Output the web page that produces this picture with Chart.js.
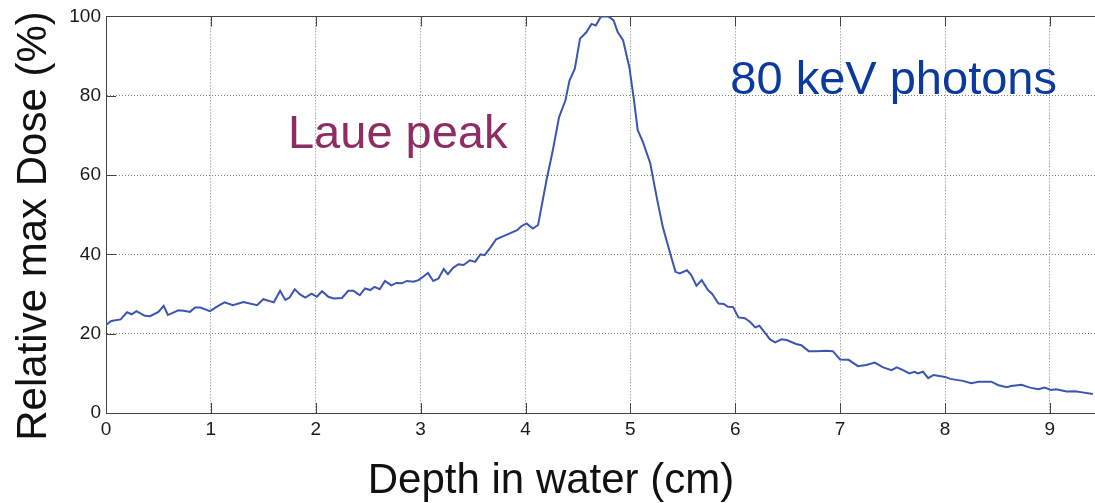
<!DOCTYPE html>
<html>
<head>
<meta charset="utf-8">
<script src="https://cdn.jsdelivr.net/npm/chart.js@4.4.1/dist/chart.umd.min.js"></script>
<style>
html,body{margin:0;padding:0;background:#fff;}
#wrap{position:relative;width:1095px;height:503px;}
</style>
</head>
<body>
<div id="wrap"><canvas id="c"></canvas></div>
<script>
// ---- data ----
const depthCm = [0.00,0.05,0.14,0.20,0.245,0.29,0.37,0.42,0.50,0.55,0.59,0.69,0.74,0.80,0.85,0.90,0.99,1.07,1.13,1.21,1.31,1.44,1.50,1.60,1.66,1.71,1.75,1.80,1.85,1.90,1.96,2.01,2.06,2.12,2.17,2.25,2.31,2.36,2.42,2.47,2.52,2.56,2.61,2.66,2.72,2.77,2.82,2.87,2.93,2.98,3.03,3.07,3.12,3.17,3.22,3.26,3.31,3.36,3.41,3.47,3.52,3.57,3.61,3.66,3.72,3.79,3.85,3.92,3.96,4.01,4.07,4.12,4.20,4.26,4.32,4.38,4.42,4.47,4.52,4.58,4.63,4.67,4.72,4.79,4.84,4.88,4.93,4.99,5.03,5.07,5.12,5.19,5.25,5.31,5.38,5.43,5.47,5.54,5.58,5.63,5.68,5.74,5.78,5.84,5.89,5.93,5.98,6.03,6.09,6.14,6.19,6.23,6.33,6.38,6.44,6.49,6.58,6.63,6.70,6.77,6.87,6.93,7.00,7.08,7.17,7.25,7.33,7.41,7.49,7.54,7.60,7.66,7.71,7.74,7.79,7.84,7.89,8.00,8.05,8.17,8.25,8.32,8.44,8.51,8.59,8.63,8.73,8.81,8.89,8.95,9.01,9.06,9.16,9.24,9.31,9.41];
const relDose = [22.2,23.2,23.6,25.4,24.9,25.7,24.5,24.4,25.5,27.0,24.7,25.9,25.8,25.5,26.6,26.6,25.7,27.0,27.9,27.2,28.0,27.2,28.7,27.9,30.8,28.5,29.1,31.2,29.9,29.1,30.1,29.3,30.7,29.3,28.9,29.0,30.8,30.8,29.7,31.4,31.0,31.8,31.2,33.3,32.2,32.8,32.7,33.3,33.1,33.5,34.5,35.3,33.3,33.9,36.3,35.0,36.6,37.5,37.3,38.5,38.1,40.0,39.8,41.5,43.8,44.6,45.3,46.1,47.1,47.8,46.5,47.4,58.7,66.2,74.6,78.8,83.9,86.8,94.4,96.0,98.1,97.7,100.0,100.0,99.0,96.0,94.0,87.2,79.7,71.3,68.3,62.9,54.5,46.8,40.2,35.6,35.2,36.0,34.8,32.1,33.5,31.0,30.0,27.6,27.5,26.8,26.7,24.1,23.9,23.0,21.6,22.0,18.6,17.8,18.6,18.4,17.4,17.1,15.6,15.6,15.7,15.6,13.5,13.4,11.8,12.1,12.7,11.5,10.8,11.5,10.8,10.0,10.4,10.0,10.4,8.8,9.6,9.1,8.6,8.1,7.5,7.9,7.9,7.0,6.5,6.8,7.1,6.4,6.0,6.4,5.8,6.0,5.4,5.5,5.2,4.8];
const xTicks = [0,1,2,3,4,5,6,7,8,9];
const yTicks = [0,20,40,60,80,100];
const xTitle = 'Depth in water (cm)';
const yTitle = 'Relative max Dose (%)';
const noteTexts = ['Laue peak', '80 keV photons'];

// ---- styling / layout ----
const FONT = "'Liberation Sans', Arial, Helvetica, sans-serif";
const AXIS = '#444444';
const GRID = '#7a7a7a';

const framePlugin = {
  id: 'frame',
  beforeDatasetsDraw(chart) {
    const {ctx, chartArea: a, scales: {x, y}} = chart;
    ctx.save();
    ctx.strokeStyle = AXIS;
    ctx.lineWidth = 1;
    ctx.beginPath();
    const t = Math.round(a.top) + 0.5;
    ctx.moveTo(a.left, t); ctx.lineTo(a.right, t);
    x.ticks.forEach(tk => {
      const px = Math.round(x.getPixelForValue(tk.value)) + 0.5;
      ctx.moveTo(px, a.bottom); ctx.lineTo(px, a.bottom - 10);
      ctx.moveTo(px, a.top); ctx.lineTo(px, a.top + 10);
    });
    y.ticks.forEach(tk => {
      const py = Math.round(y.getPixelForValue(tk.value)) + 0.5;
      ctx.moveTo(a.left, py); ctx.lineTo(a.left + 10, py);
    });
    ctx.stroke();
    ctx.restore();
  },
  afterDraw(chart) {
    const {ctx, scales: {x, y}} = chart;
    ctx.save();
    // annotations placed in data coordinates
    ctx.font = '47px ' + FONT;
    ctx.textAlign = 'left';
    ctx.textBaseline = 'alphabetic';
    ctx.fillStyle = '#8f2d63';
    ctx.fillText(noteTexts[0], x.getPixelForValue(1.735), y.getPixelForValue(66.75));
    ctx.fillStyle = '#0b3a9e';
    ctx.fillText(noteTexts[1], x.getPixelForValue(5.953), y.getPixelForValue(80.5));
    // axis titles
    ctx.fillStyle = '#111';
    ctx.font = '42px ' + FONT;
    ctx.textAlign = 'center';
    ctx.fillText(xTitle, 551, 493);
    ctx.translate(46, 226);
    ctx.rotate(-Math.PI / 2);
    ctx.fillText(yTitle, 0, 0);
    ctx.restore();
  }
};

new Chart(document.getElementById('c'), {
  type: 'line',
  data: {
    datasets: [{
      data: depthCm.map((d, i) => ({x: d, y: relDose[i]})),
      borderColor: '#3b56b0',
      borderWidth: 2,
      pointRadius: 0,
      tension: 0,
      fill: false
    }]
  },
  options: {
    responsive: true,
    maintainAspectRatio: false,
    animation: false,
    layout: {padding: {top: 16, left: 0, right: 0, bottom: 0}},
    plugins: {legend: {display: false}, tooltip: {enabled: false}},
    scales: {
      x: {
        type: 'linear', min: 0, max: 9.43,
        afterFit(s) { s.height = 90; },
        afterBuildTicks(s) { s.ticks = xTicks.map(v => ({value: v})); },
        ticks: {font: {family: FONT, size: 19}, color: '#1a1a1a', padding: 5, maxRotation: 0, autoSkip: false, includeBounds: false},
        grid: {color: c => (c.tick && c.tick.value === 0) ? 'rgba(0,0,0,0)' : GRID, lineWidth: 1, drawTicks: false},
        border: {display: true, color: AXIS, width: 1, dash: [1, 2]}
      },
      y: {
        type: 'linear', min: 0, max: 100,
        afterFit(s) { s.width = 106; },
        afterBuildTicks(s) { s.ticks = yTicks.map(v => ({value: v})); },
        ticks: {font: {family: FONT, size: 19}, color: '#1a1a1a', padding: 5, autoSkip: false, includeBounds: false},
        grid: {color: c => (c.tick && (c.tick.value === 0 || c.tick.value === 100)) ? 'rgba(0,0,0,0)' : GRID, lineWidth: 1, drawTicks: false},
        border: {display: true, color: AXIS, width: 1, dash: [1, 2]}
      }
    }
  },
  plugins: [framePlugin]
});
</script>
</body>
</html>
